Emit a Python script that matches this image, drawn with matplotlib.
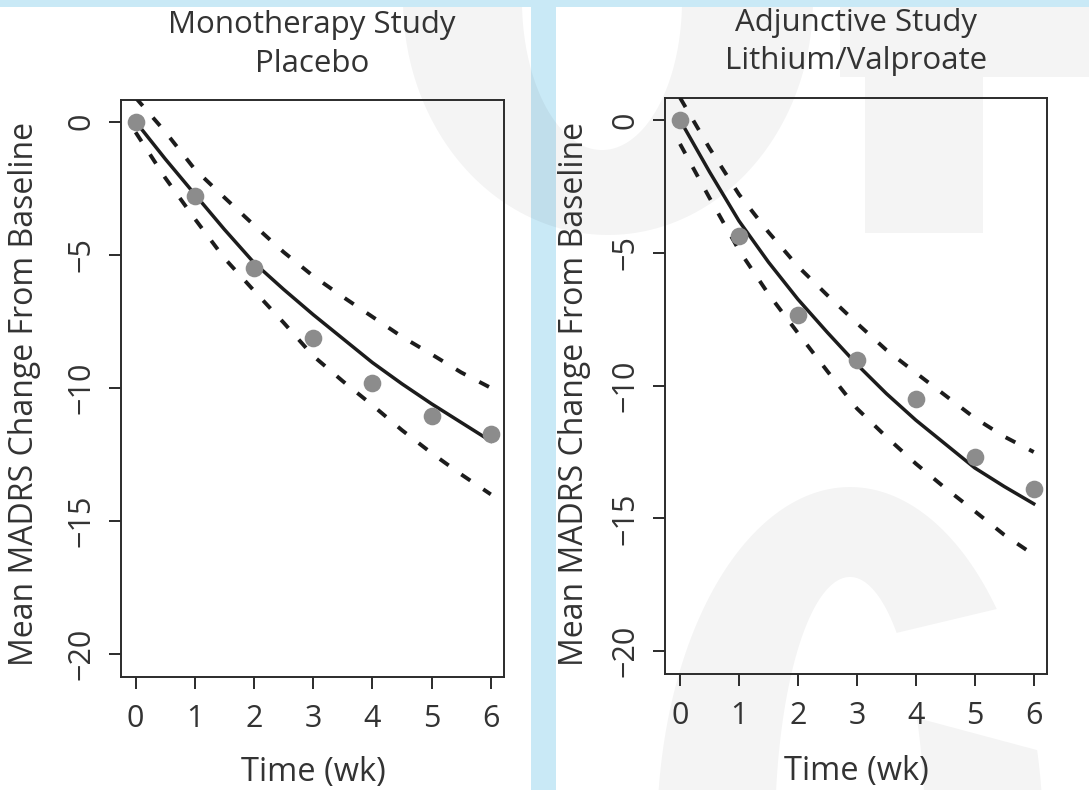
import numpy as np
import matplotlib
matplotlib.use("Agg")
import matplotlib.pyplot as plt
from matplotlib.patches import Rectangle, PathPatch, Polygon
from matplotlib.path import Path

plt.rcParams['font.family'] = ['Open Sans', 'DejaVu Sans']
plt.rcParams['axes.unicode_minus'] = True

# ---- data -------------------------------------------------------------
weeks = [0, 1, 2, 3, 4, 5, 6]
curve_weeks = [0, 0.5, 1, 1.5, 2, 2.5, 3, 3.5, 4, 4.5, 5, 5.5, 6]

mono_obs = [0.0, -2.79, -5.48, -8.11, -9.80, -11.06, -11.75]
mono_fit = [0.0, -1.40, -2.73, -4.05, -5.30, -6.30, -7.25, -8.15, -9.05, -9.85, -10.60, -11.30, -12.00]
mono_upper = [0.90, -0.38, -1.79, -2.85, -3.89, -4.90, -5.80, -6.58, -7.33, -8.08, -8.74, -9.42, -10.00]
mono_lower = [-0.40, -2.11, -3.65, -5.13, -6.35, -7.55, -8.80, -9.75, -10.65, -11.59, -12.45, -13.25, -14.00]

adj_obs = [0.0, -4.35, -7.35, -9.05, -10.50, -12.70, -13.90]
adj_fit = [0.0, -1.95, -3.80, -5.35, -6.75, -8.00, -9.20, -10.30, -11.30, -12.20, -13.10, -13.80, -14.45]
adj_upper = [0.84, -1.06, -2.80, -4.22, -5.51, -6.60, -7.65, -8.66, -9.52, -10.37, -11.22, -11.92, -12.50]
adj_lower = [-0.90, -2.93, -4.90, -6.55, -8.02, -9.46, -10.86, -11.93, -12.94, -13.86, -14.73, -15.62, -16.37]

titles = [("Monotherapy Study", "Placebo"), ("Adjunctive Study", "Lithium/Valproate")]
y_label = "Mean MADRS Change From Baseline"
x_label = "Time (wk)"
x_ticks = [0, 1, 2, 3, 4, 5, 6]
y_ticks = [0, -5, -10, -15, -20]

# ---- figure -----------------------------------------------------------
W, H = 1089, 790
fig = plt.figure(figsize=(W / 100, H / 100), dpi=100)
fig.patch.set_facecolor('white')


def fx(x):
    return x / W


def fy(y):
    return 1 - y / H


def to_fig(pts):
    return [(fx(x), fy(y)) for x, y in pts]


def ellipse(cx, cy, rx, ry, n=240, reverse=False):
    a = np.linspace(0, 2 * np.pi, n, endpoint=False)
    if reverse:
        a = a[::-1]
    return [(cx + rx * np.cos(t), cy + ry * np.sin(t)) for t in a]


def ring_path(outer, inner):
    verts, codes = [], []
    for ring in (outer, inner):
        pts = to_fig(ring)
        verts += pts + [pts[0]]
        codes += [Path.MOVETO] + [Path.LINETO] * (len(pts) - 1) + [Path.CLOSEPOLY]
    return Path(verts, codes)


# background decoration
blue = '#c9e9f6'
shade = dict(facecolor='black', alpha=0.045, edgecolor='none',
             transform=fig.transFigure, zorder=-2)
fig.add_artist(Rectangle((fx(531), 0), fx(556) - fx(531), 1, facecolor=blue,
                         edgecolor='none', transform=fig.transFigure, zorder=-3))
fig.add_artist(PathPatch(ring_path(ellipse(608, 0, 205, 235),
                                   ellipse(602, 0, 80, 150, reverse=True)), **shade))
fig.add_artist(Polygon(to_fig([(840, 7), (1089, 7), (1089, 77), (983, 77), (983, 233),
                               (865, 233), (865, 77), (840, 77)]), closed=True, **shade))
fig.add_artist(PathPatch(ring_path(ellipse(850, 835, 193, 348),
                                   ellipse(850, 835, 75, 258, reverse=True)), **shade))
fig.add_artist(Polygon(to_fig([(850, 644), (1089, 587), (1089, 764), (850, 700)]),
                       closed=True, facecolor='white', edgecolor='none',
                       transform=fig.transFigure, zorder=-1.5))
fig.add_artist(Rectangle((0, fy(7)), 1, 1 - fy(7), facecolor=blue, edgecolor='none',
                         transform=fig.transFigure, zorder=-1))

ink = '#1c1c1c'
text_c = '#333333'

panels = [
    dict(box=(120.5, 99.5, 503.8, 677), obs=mono_obs, fit=mono_fit, up=mono_upper,
         lo=mono_lower, t1=33, t2=71.5, ylx=33.5, xlb=781),
    dict(box=(665, 98, 1046.7, 674), obs=adj_obs, fit=adj_fit, up=adj_upper,
         lo=adj_lower, t1=31.5, t2=69, ylx=583, xlb=780),
]

for p, (title1, title2) in zip(panels, titles):
    x0, y0, x1, y1 = p['box']
    ax = fig.add_axes([fx(x0), fy(y1), (x1 - x0) / W, (y1 - y0) / H])
    ax.set_facecolor('none')

    ax.plot(curve_weeks, p['fit'], color=ink, lw=2.5, zorder=3)
    for band in (p['up'], p['lo']):
        ax.plot(curve_weeks, band, color=ink, lw=2.8, dashes=(2.8, 4.0), zorder=3)
    ax.plot(weeks, p['obs'], 'o', ms=12.7, color='#8c8c8c', mec='none', zorder=4)

    ax.set_xlim(-0.255, 6.22)
    ax.set_ylim(-20.86, 0.83)
    ax.set_xticks(x_ticks)
    ax.set_yticks(y_ticks)
    ax.set_yticklabels([f"{v}".replace('-', '\u2212') for v in y_ticks],
                       rotation=90, va='center')
    for s in ax.spines.values():
        s.set_linewidth(1.4)
        s.set_color('#2b2b2b')
    ax.tick_params(direction='out', length=8.5, width=1.4, color='#2b2b2b',
                   labelsize=22, labelcolor=text_c)
    ax.tick_params(axis='x', pad=11)
    ax.tick_params(axis='y', pad=9)

    cx = (x0 + x1) / 2
    fig.text(fx(cx), fy(p['t1']), title1, ha='center', va='baseline',
             fontsize=22.5, color=text_c)
    fig.text(fx(cx), fy(p['t2']), title2, ha='center', va='baseline',
             fontsize=22.5, color=text_c)
    fig.text(fx(p['ylx']), fy(394), y_label, rotation=90, rotation_mode='anchor',
             ha='center', va='baseline', fontsize=23, color=text_c)
    fig.text(fx(cx + 1), fy(p['xlb']), x_label, ha='center', va='baseline',
             fontsize=23.5, color=text_c)

fig.savefig('out.png', dpi=100)
